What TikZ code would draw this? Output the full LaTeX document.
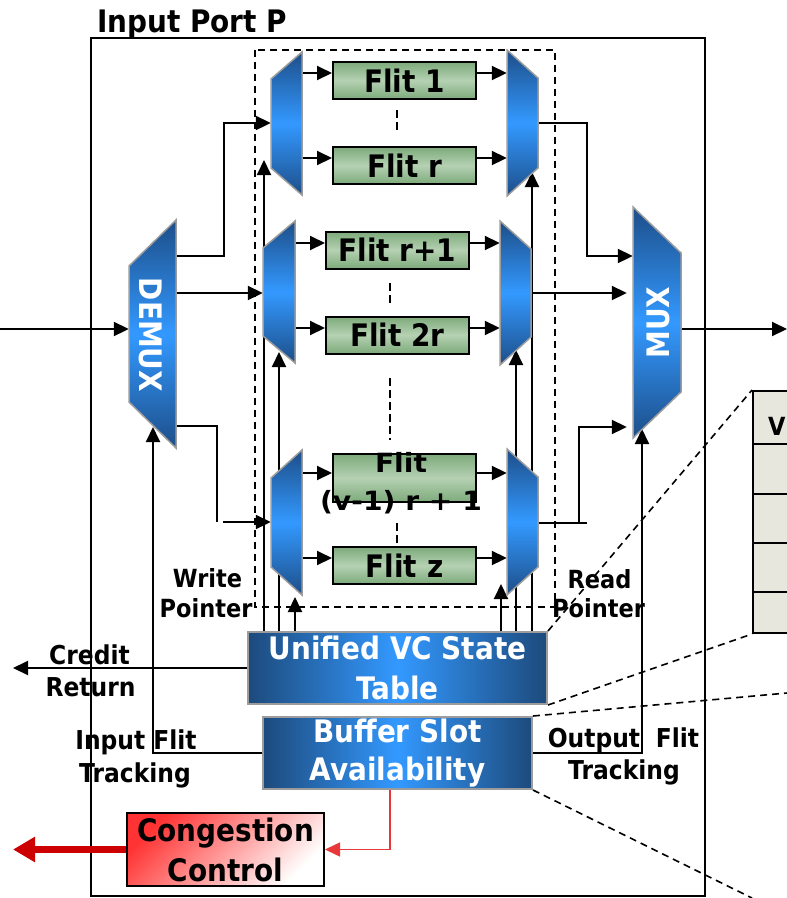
\documentclass[tikz,border=0pt]{standalone}
\usepackage{fontspec}
\setmainfont{DejaVu Sans}[FakeStretch=0.9]
\usepackage{graphicx}
\usetikzlibrary{arrows.meta,calc}

\definecolor{trapDark}{HTML}{1D4E89}
\definecolor{trapLight}{HTML}{3399FF}
\definecolor{trapEdge}{HTML}{9C9C9C}
\definecolor{tabDark}{HTML}{1D4A7C}
\definecolor{tabLight}{HTML}{3399FF}
\definecolor{flitEdge}{HTML}{7DAA7B}
\definecolor{flitMid}{HTML}{B5D1B2}
\definecolor{tblCell}{HTML}{E7E7DD}
\definecolor{ccRed}{HTML}{FF3333}
\definecolor{thinRed}{HTML}{E8383A}
\definecolor{fatRed}{HTML}{CC0000}

\newcommand\bigfont{\fontsize{31}{40}\selectfont\bfseries}
\newcommand\lblfont{\fontsize{26}{32}\selectfont\bfseries}
\newcommand\ptrfont{\fontsize{25}{30}\selectfont\bfseries}

\pgfdeclarelayer{back}
\pgfsetlayers{back,main}

% #1 name, #2 x of short side, #3 x of long side,
% #4 top of long side, #5 bottom of long side, #6 slant
\newcommand\trapnode[6]{%
  \shadedraw[trapfill] (#2,#4+#6) -- (#3,#4) -- (#3,#5) -- (#2,#5-#6) -- cycle;
  \node[anchorbox, minimum width={abs(#3-#2)}, minimum height={#5-#4}]
    (#1) at ({(#2+#3)/2},{(#4+#5)/2}) {};%
}

\begin{document}
\begin{tikzpicture}[x=1pt,y=-1pt,
  tip/.tip={Triangle[length=15pt,width=14pt]},
  wire/.style={line width=2pt,-tip},
  plain/.style={line width=2pt},
  dotline/.style={line width=2pt,dash pattern=on 8pt off 4pt},
  boxdash/.style={line width=1.6pt,dash pattern=on 7pt off 5pt},
  trapfill/.style={draw=trapEdge,line width=1.5pt,top color=trapDark,bottom color=trapDark,middle color=trapLight},
  anchorbox/.style={rectangle,inner sep=0pt,draw=none},
  flit/.style={rectangle,draw=black,line width=2pt,inner sep=0pt,minimum width=143pt,minimum height=37pt,
    top color=flitEdge,bottom color=flitEdge,middle color=flitMid,font=\bigfont},
  statebox/.style={rectangle,draw=trapEdge,line width=2pt,inner sep=0pt,left color=tabDark,right color=tabDark,
    middle color=tabLight,text=white,align=center,font=\bigfont},
  cell/.style={rectangle,draw=black,line width=2pt,fill=tblCell,inner sep=0pt,minimum width=100pt,anchor=north west},
  lbl/.style={font=\lblfont,inner sep=0pt,anchor=base},
  ptr/.style={font=\ptrfont,inner sep=0pt,anchor=base},
  muxtext/.style={font=\bigfont,text=white,inner sep=0pt}
]
\useasboundingbox (0,0) rectangle (787,898);
\clip (0,0) rectangle (787,898);

% ---------- switching elements ----------
\trapnode{dl1}{271}{302}{52}{195}{27}
\trapnode{dl2}{263}{295}{221}{363}{27}
\trapnode{dl3}{271}{302}{450}{595}{28}
\trapnode{ml1}{538}{507}{50}{196}{28}
\trapnode{ml2}{531}{500}{221}{365}{28}
\trapnode{ml3}{538}{507}{449}{595}{28}
\trapnode{demux}{129}{176}{220}{448}{46}
\trapnode{mux}{681}{633}{207}{438}{46}
\node[muxtext,rotate=-90] (demuxlbl) at (150.5,335) {DEMUX};
\node[muxtext,rotate=90] (muxlbl) at (658,322.5) {MUX};

% ---------- flit buffers ----------
\node[flit] (f1) at (404.5,80.5) {Flit 1};
\node[flit] (fr) at (404.5,165.5) {Flit r};
\node[flit] (fr1) at (397.5,250) {Flit r+1};
\node[flit] (f2r) at (397.5,335) {Flit 2r};
\node[flit,minimum height=48pt] (fv) at (404.5,478) {};
\node[font=\fontsize{26.5}{38}\selectfont\bfseries,align=center,inner sep=0pt] (fvtext) at (401,483)
  {\scalebox{1.18}[1]{Flit}\\\scalebox{1.18}[1]{(v-1) r + 1}};
\node[flit] (fz) at (404.5,565.5) {Flit z};

% ---------- state tables ----------
\node[statebox,minimum width=299pt,minimum height=72pt] (vc) at (397.5,668) {Unified VC State\\Table};
\node[statebox,minimum width=269pt,minimum height=72pt,font=\fontsize{31}{38}\selectfont\bfseries] (bsa) at (397.5,753)
  {Buffer Slot\\Availability};
\node[rectangle,draw=black,line width=2pt,inner sep=0pt,minimum width=197pt,minimum height=73pt,
  left color=ccRed,right color=white,shading angle=45,align=center,font=\bigfont] (cc) at (225.5,849.5)
  {Congestion\\Control};

% ---------- table detail ----------
\node[cell,minimum height=53pt] (rt0) at (752,390) {};
\node[cell,minimum height=50pt] (rt1) at (752,443) {};
\node[cell,minimum height=49pt] (rt2) at (752,493) {};
\node[cell,minimum height=49pt] (rt3) at (752,542) {};
\node[cell,minimum height=41pt] (rt4) at (752,591) {};
\node[font=\ptrfont,inner sep=0pt,anchor=base west] (vhead) at (768,435) {V};

% ---------- labels ----------
\node[font=\fontsize{31}{36}\selectfont\bfseries,inner sep=0pt,anchor=base west] (title) at (97,32) {Input Port P};
\node[lbl] (credit) at (89.5,664) {Credit};
\node[lbl] (return) at (90.5,696) {Return};
\node[lbl] (inflit) at (136,749) {Input Flit};
\node[lbl] (intrk) at (135,782) {Tracking};
\node[lbl] (outA) at (594,747) {Output};
\node[lbl] (outB) at (677.5,747) {Flit};
\node[lbl] (outtrk) at (624,779) {Tracking};
\node[ptr] (wr1) at (207.5,587) {Write};
\node[ptr] (wr2) at (206,617) {Pointer};
\node[ptr] (rd1) at (599.5,588) {Read};
\node[ptr] (rd2) at (598.5,617) {Pointer};

\coordinate (inL) at (0,329);
\coordinate (outR) at (787,329);

\begin{pgfonlayer}{back}
  % port boundary and buffer region
  \draw[line width=2pt] (91,38) rectangle (705,896);
  \draw[boxdash] (255,50) rectangle (555,607);
  % zoom lines to the table detail
  \draw[boxdash] (vc.north east) -- (rt0.north west);
  \draw[boxdash] (vc.south east) -- (rt4.south west);
  \draw[boxdash] (bsa.north east) -- (787,693);
  \draw[boxdash] (bsa.south east) -- (752,898);

  % input side
  \draw[wire] (inL) -- (demux.west |- inL);
  \draw[wire] (demux.east |- 0,256) -| (224,123) -- (dl1.west |- 0,123);
  \draw[wire] (demux.east |- 0,293) -- (dl2.west |- 0,293);
  \draw[plain] (demux.east |- 0,426) -| (217,522);
  \draw[wire] (223,522) -- (dl3.west |- 0,522);

  % flit slots
  \foreach \b/\l/\r/\y in {f1/dl1/ml1/73, fr/dl1/ml1/158, fr1/dl2/ml2/243,
                           f2r/dl2/ml2/328, fv/dl3/ml3/473, fz/dl3/ml3/558}{
    \draw[wire] (\l.east |- 0,\y) -- (\b.west |- 0,\y);
    \draw[wire] (\b.east |- 0,\y) -- (\r.west |- 0,\y);
  }
  \draw[dotline] (397,110) -- (397,131);
  \draw[dotline] (390,283) -- (390,305);
  \draw[dotline] (390,378) -- (390,440);
  \draw[dotline] (397,523) -- (397,543);

  % output side
  \draw[wire] (ml1.east |- 0,123) -| (587,256) -- (mux.west |- 0,256);
  \draw[wire,shorten >=6pt] (ml2.east |- 0,293) -- (mux.west |- 0,293);
  \draw[plain] (ml3.east |- 0,523) -- (587,523);
  \draw[wire,shorten >=6pt] (579,523) |- (mux.west |- 0,427);
  \draw[wire] (mux.east |- outR) -- (outR);

  % write and read pointers
  \foreach \x/\y in {264/160,279/352,295/597,501/584,516/350,532/172}
    \draw[wire] (vc.north -| \x,0) -- (\x,\y);

  % credits and tracking
  \draw[wire] (vc.west) -- (13,668);
  \draw[wire] (bsa.west |- 0,753) -| (153,427);
  \draw[wire] (bsa.east |- 0,753) -| (642,429);

  % congestion signalling
  \draw[thinRed,line width=1.5pt,-tip] (bsa.south -| 390,0) |- (cc.east);
  \draw[fatRed,line width=7pt,-{Triangle[length=22pt,width=24pt]}] (cc.west) -- (13,849.5);
\end{pgfonlayer}
\end{tikzpicture}
\end{document}
